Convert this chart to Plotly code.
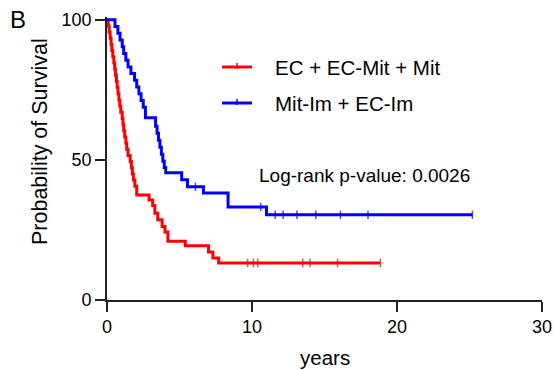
import plotly.graph_objects as go

# Kaplan-Meier estimates: event times (years) and survival (%) after each event
red_name = "EC + EC-Mit + Mit"
red_t = [0, 0.08, 0.15, 0.22, 0.28, 0.33, 0.40, 0.47, 0.53, 0.58, 0.65, 0.70, 0.76,
         0.82, 0.88, 0.95, 1.05, 1.10, 1.15, 1.22, 1.30, 1.36, 1.45, 1.60, 1.68,
         1.75, 1.82, 1.92, 2.05, 2.90, 3.15, 3.30, 3.50, 3.80, 4.00, 4.20, 5.40,
         7.00, 7.30, 7.70]
red_s = [100, 97.8, 95.6, 93.4, 91.2, 89.0, 86.8, 84.6, 82.4, 80.2, 78.0, 75.8, 73.6,
         71.4, 69.2, 67.0, 64.8, 62.6, 60.4, 58.2, 56.0, 53.8, 51.6, 49.4, 47.2,
         45.0, 42.8, 40.6, 37.5, 35.7, 33.7, 31.0, 28.6, 26.2, 24.3, 21.0, 19.4,
         17.1, 15.0, 13.2]
red_censor = [9.7, 10.1, 10.4, 13.5, 14.0, 15.9, 18.85]

blue_name = "Mit-Im + EC-Im"
blue_t = [0, 0.55, 0.75, 0.90, 1.05, 1.15, 1.30, 1.45, 1.65, 1.90, 2.05, 2.20, 2.35,
          2.50, 2.65, 3.35, 3.45, 3.55, 3.65, 3.75, 3.85, 3.95, 4.05, 5.15, 5.55,
          6.65, 8.35, 11.0]
blue_s = [100, 97.6, 95.2, 92.8, 90.4, 88.0, 85.6, 83.2, 80.8, 78.4, 76.0, 73.6, 71.2,
          68.8, 65.0, 62.0, 59.5, 57.0, 54.5, 52.0, 49.5, 47.3, 45.4, 42.9, 40.4,
          38.2, 33.2, 30.4]
blue_censor = [6.1, 10.6, 11.6, 12.15, 13.1, 14.4, 16.1, 18.0, 25.2]

x_ticks = [0, 10, 20, 30]
y_ticks = [0, 50, 100]
p_text = "Log-rank p-value: 0.0026"

FONT = "Liberation Sans, Arial, Helvetica, sans-serif"
RED = "#ff0000"
BLUE = "#0000ff"


def km_series(times, surv, censor):
    """Merge events and censored times into one step series."""
    pts = [(t, s, 0) for t, s in zip(times, surv)]
    for c in censor:
        level = surv[0]
        for t, s in zip(times, surv):
            if t <= c:
                level = s
        pts.append((c, level, 1))
    pts.sort(key=lambda p: (p[0], -p[2]))
    xs = [p[0] for p in pts]
    ys = [p[1] for p in pts]
    sizes = [6 if p[2] else 0 for p in pts]
    return xs, ys, sizes


fig = go.Figure()
for name, t, s, c, col in [(red_name, red_t, red_s, red_censor, RED),
                           (blue_name, blue_t, blue_s, blue_censor, BLUE)]:
    xs, ys, sizes = km_series(t, s, c)
    fig.add_trace(go.Scatter(
        x=xs, y=ys, name=name, mode="lines+markers",
        line=dict(color=col, width=3, shape="hv"),
        marker=dict(symbol="line-ns", size=sizes, color=col,
                    line=dict(color=col, width=1.5)),
        showlegend=False, cliponaxis=False,
    ))

# plot area: x 107..542 px, y 17..300 px
L, R, T, B = 107, 11, 17, 70
W, H = 553, 370
pw, ph = W - L - R, H - T - B


def px(x):
    return (x - L) / pw


def py(y):
    return (H - B - y) / ph


shapes = []
annotations = []
# legend keys
for name, col, yy in [(red_name, RED, 67), (blue_name, BLUE, 103)]:
    shapes.append(dict(type="line", xref="paper", yref="paper",
                       x0=px(222), x1=px(252), y0=py(yy), y1=py(yy),
                       line=dict(color=col, width=3)))
    shapes.append(dict(type="line", xref="paper", yref="paper",
                       x0=px(237), x1=px(237), y0=py(yy - 4), y1=py(yy + 2),
                       line=dict(color=col, width=1.5)))
    annotations.append(dict(xref="paper", yref="paper", x=px(273), y=py(yy),
                            xanchor="left", yanchor="middle", showarrow=False,
                            text=name, font=dict(family=FONT, size=20.5, color="#000")))

annotations += [
    dict(xref="paper", yref="paper", x=px(257), y=py(175), xanchor="left",
         yanchor="middle", showarrow=False, text=p_text,
         font=dict(family=FONT, size=19, color="#000")),
    dict(xref="paper", yref="paper", x=px(8), y=py(19), xanchor="left",
         yanchor="middle", showarrow=False, text="B",
         font=dict(family=FONT, size=24, color="#000")),
    dict(xref="paper", yref="paper", x=px(40), y=py(142), xanchor="center",
         yanchor="middle", showarrow=False, text="Probability of Survival",
         textangle=-90, font=dict(family=FONT, size=21.5, color="#000")),
    dict(xref="paper", yref="paper", x=px(324.5), y=py(357), xanchor="center",
         yanchor="middle", showarrow=False, text="years",
         font=dict(family=FONT, size=20.5, color="#000")),
]

axis_common = dict(showgrid=False, zeroline=False, showline=True, linewidth=1.6,
                   linecolor="#222", ticks="outside", ticklen=10, tickwidth=1.6,
                   tickcolor="#222", automargin=False,
                   tickfont=dict(family=FONT, size=18, color="#000"))

fig.update_layout(
    width=W, height=H,
    margin=dict(l=L, r=R, t=T, b=B, autoexpand=False),
    paper_bgcolor="white", plot_bgcolor="white",
    xaxis=dict(range=[0, 30], tickvals=x_ticks, **axis_common),
    yaxis=dict(range=[0, 101], tickvals=y_ticks, **axis_common),
    shapes=shapes, annotations=annotations,
)

fig.write_html("out.html")
